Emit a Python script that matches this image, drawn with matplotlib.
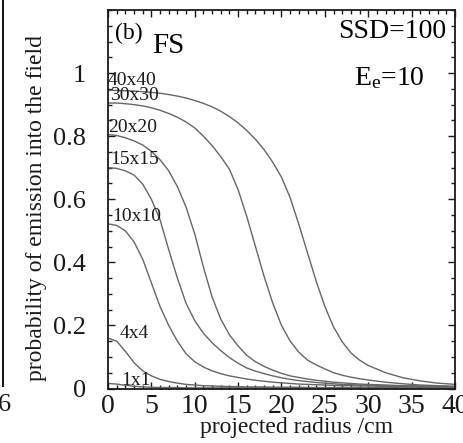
import numpy as np
import matplotlib
matplotlib.use('Agg')
import matplotlib.pyplot as plt
from matplotlib.ticker import MultipleLocator
from matplotlib.lines import Line2D

plt.rcParams['font.family'] = 'serif'
plt.rcParams['font.serif'] = ['Liberation Serif', 'DejaVu Serif']
plt.rcParams['mathtext.fontset'] = 'custom'
plt.rcParams['mathtext.rm'] = 'Liberation Serif'
plt.rcParams['mathtext.it'] = 'Liberation Serif:italic'

# projected radius (cm)
radius = list(range(0, 31)) + [32, 34, 36, 38, 40]

# probability of emission into the field
p40 = [0.945, 0.945, 0.944, 0.943, 0.941, 0.939, 0.936, 0.932, 0.927, 0.921,
       0.913, 0.904, 0.893, 0.879, 0.862, 0.842, 0.818, 0.79, 0.757, 0.717,
       0.67, 0.605, 0.52, 0.43, 0.34, 0.26, 0.195, 0.148, 0.113, 0.09,
       0.073, 0.05, 0.034, 0.024, 0.017, 0.013]
p30 = [0.905, 0.905, 0.903, 0.9, 0.896, 0.89, 0.882, 0.872, 0.86, 0.845,
       0.826, 0.80, 0.77, 0.735, 0.695, 0.63, 0.545, 0.45, 0.355, 0.27,
       0.2, 0.15, 0.115, 0.09, 0.075, 0.062, 0.05, 0.042, 0.036, 0.031,
       0.027, 0.02, 0.015, 0.011, 0.009, 0.007]
p20 = [0.805, 0.802, 0.795, 0.785, 0.772, 0.752, 0.725, 0.69, 0.64, 0.575,
       0.49, 0.385, 0.29, 0.22, 0.17, 0.135, 0.105, 0.085, 0.07, 0.058,
       0.048, 0.04, 0.035, 0.03, 0.026, 0.023, 0.02, 0.018, 0.016, 0.014,
       0.013, 0.011, 0.009, 0.008, 0.007, 0.006]
p15 = [0.70, 0.698, 0.69, 0.677, 0.648, 0.60, 0.535, 0.44, 0.35, 0.27,
       0.215, 0.175, 0.145, 0.12, 0.098, 0.08, 0.065, 0.055, 0.047, 0.04,
       0.034, 0.029, 0.025, 0.022, 0.019, 0.017, 0.015, 0.013, 0.012, 0.011,
       0.01, 0.009, 0.008, 0.007, 0.006, 0.005]
p10 = [0.522, 0.517, 0.50, 0.465, 0.41, 0.335, 0.26, 0.2, 0.15, 0.11,
       0.085, 0.068, 0.056, 0.047, 0.04, 0.035, 0.03, 0.026, 0.023, 0.02,
       0.018, 0.016, 0.014, 0.013, 0.012, 0.011, 0.01, 0.009, 0.009, 0.008,
       0.008, 0.007, 0.006, 0.005, 0.005, 0.004]
p4 = [0.16, 0.15, 0.118, 0.082, 0.056, 0.04, 0.029, 0.022, 0.017, 0.013,
      0.011, 0.009, 0.008, 0.007, 0.006, 0.006, 0.005, 0.005, 0.005, 0.004,
      0.004, 0.004, 0.004, 0.003, 0.003, 0.003, 0.003, 0.003, 0.003, 0.003,
      0.003, 0.003, 0.002, 0.002, 0.002, 0.002]
p1 = [0.016, 0.014, 0.01, 0.007, 0.005, 0.004, 0.003, 0.003, 0.003, 0.002,
      0.002, 0.002, 0.002, 0.002, 0.002, 0.002, 0.002, 0.002, 0.002, 0.002,
      0.002, 0.002, 0.002, 0.002, 0.002, 0.002, 0.002, 0.002, 0.002, 0.002,
      0.002, 0.002, 0.002, 0.002, 0.002, 0.002]

fields = ['40x40', '30x30', '20x20', '15x15', '10x10', '4x4', '1x1']
curves = [p40, p30, p20, p15, p10, p4, p1]
# where the field labels sit (data coords)
lab_x = [0.0, 0.2, 0.0, 0.2, 0.5, 1.3, 1.5]
lab_y = [0.975, 0.93, 0.829, 0.725, 0.544, 0.173, 0.024]

fig = plt.figure(figsize=(4.64, 4.43), dpi=100)
ax = fig.add_axes([108/464, 1 - 388.5/443, 347/464, 378.5/443])

for p in curves:
    ax.plot(radius, p, color='0.4', lw=1.0)

for name, x, y in zip(fields, lab_x, lab_y):
    ax.text(x, y, name, fontsize=14, ha='left', va='center', color='0.1')

ax.set_xlim(0, 40)
ax.set_ylim(0, 1.2)
ax.xaxis.set_major_locator(MultipleLocator(5))
ax.xaxis.set_minor_locator(MultipleLocator(1))
ax.yaxis.set_major_locator(MultipleLocator(0.2))
ax.yaxis.set_minor_locator(MultipleLocator(0.05))
ax.set_yticks([0, 0.2, 0.4, 0.6, 0.8, 1.0])
ax.set_yticklabels(['0', '0.2', '0.4', '0.6', '0.8', '1'])
ax.tick_params(which='both', direction='in', top=True, right=True, width=1, colors='0.1')
ax.tick_params(which='major', length=5)
ax.tick_params(which='minor', length=3)
ax.tick_params(axis='y', labelsize=19, pad=16)
ax.tick_params(axis='x', labelsize=20, pad=4)
for s in ax.spines.values():
    s.set_linewidth(1.3)
    s.set_color('0.1')

ax.text(115/464, 1 - 39/443, '(b)', transform=fig.transFigure, fontsize=17, ha='left', va='baseline')
ax.text(152/464, 1 - 53/443, 'FS', transform=fig.transFigure, fontsize=21, ha='left', va='baseline')
ax.text(446/464, 1 - 38/443, 'SSD=100', transform=fig.transFigure, fontsize=20, ha='right', va='baseline')
ax.text(425/464, 1 - 85/443, 'E$_{\\mathrm{e}}$=10', transform=fig.transFigure, fontsize=20, ha='right', va='baseline')

fig.text(37/464, 1 - 208/443, 'probability of emission into the field', rotation=90,
         fontsize=17, ha='center', va='center', color='0.1')
fig.text(297/464, 1 - 428/443, 'projected radius /cm', fontsize=17, ha='center', va='center', color='0.1')

# edge of the neighbouring panel
fig.add_artist(Line2D([2.5/464, 2.5/464], [1 - 386/443, 1.0], transform=fig.transFigure, color='0.1', lw=1.5))
fig.text(11/464, 1 - 405/443, '6', fontsize=19, ha='right', va='center', color='0.1')

fig.savefig('out.png', dpi=100)
